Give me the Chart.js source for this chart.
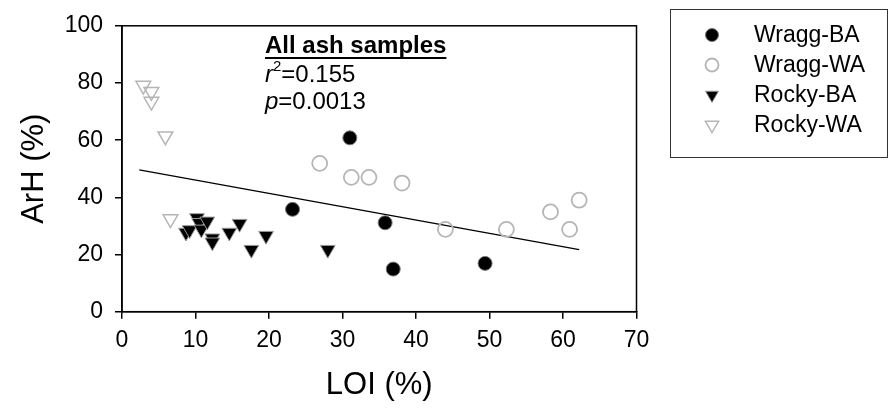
<!DOCTYPE html>
<html>
<head>
<meta charset="utf-8">
<script src="https://cdn.jsdelivr.net/npm/chart.js@4.4.0/dist/chart.umd.min.js"></script>
<style>
  body { margin: 0; background: #fff; }
  #wrap { width: 890px; height: 417px; }
</style>
</head>
<body>
<div id="wrap"><canvas id="myChart" width="890" height="417"></canvas></div>
<script>
// LOI (%) vs ArH (%)
var wraggBA_x = [31.0, 23.2, 35.8, 36.9, 49.4];
var wraggBA_y = [60.8, 35.8, 31.1, 14.9, 16.9];

var wraggWA_x = [26.9, 31.2, 33.6, 38.1, 44.0, 52.3, 58.3, 60.9, 62.2];
var wraggWA_y = [51.9, 47.0, 47.0, 45.0, 28.8, 28.8, 34.9, 28.8, 39.0];

var rockyBA_x = [8.7, 9.2, 10.2, 10.5, 10.8, 11.6, 12.3, 12.3, 14.6, 16.0, 17.6, 19.6, 28.0];
var rockyBA_y = [27.7, 28.6, 32.8, 31.1, 28.8, 31.6, 25.7, 24.3, 27.7, 30.8, 21.7, 26.6, 21.7];

var rockyWA_x = [2.9, 4.0, 4.0, 5.9, 6.6];
var rockyWA_y = [79.1, 76.9, 73.5, 61.4, 32.4];

// regression line end points
var fitX = [2.35, 62.2];
var fitY = [49.6, 21.7];

var xTicks = [0, 10, 20, 30, 40, 50, 60, 70];
var yTicks = [0, 20, 40, 60, 80, 100];

var statLines = ['All ash samples', '=0.155', '=0.0013'];

function pts(xs, ys) {
    return xs.map(function (x, i) { return {x: x, y: ys[i]}; });
}

var FONT = "'Liberation Sans', Arial, sans-serif";
var grey = '#b5b5b5';

var datasets = [
    {label: 'Wragg-BA', data: pts(wraggBA_x, wraggBA_y), pointStyle: 'circle', pointRadius: 7,
     backgroundColor: '#000', borderColor: '#777', borderWidth: 1, showLine: false},
    {label: 'Wragg-WA', data: pts(wraggWA_x, wraggWA_y), pointStyle: 'circle', pointRadius: 7.5,
     backgroundColor: 'rgba(255,255,255,0)', borderColor: grey, borderWidth: 1.8, showLine: false},
    {label: 'Rocky-BA', data: pts(rockyBA_x, rockyBA_y), pointStyle: 'triangle', rotation: 180, pointRadius: 8.5,
     backgroundColor: '#000', borderColor: '#999', borderWidth: 1, showLine: false},
    {label: 'Rocky-WA', data: pts(rockyWA_x, rockyWA_y), pointStyle: 'triangle', rotation: 180, pointRadius: 8.5,
     backgroundColor: 'rgba(255,255,255,0)', borderColor: grey, borderWidth: 1.5, showLine: false},
    {label: 'fit', type: 'line', data: pts(fitX, fitY), showLine: true, pointRadius: 0,
     borderColor: '#000', borderWidth: 1.3, fill: false}
];

function marker(ctx, ds, x, y, r) {
    ctx.save();
    ctx.beginPath();
    if (ds.pointStyle === 'circle') {
        ctx.arc(x, y, r, 0, Math.PI * 2);
    } else {
        var a = Math.PI;
        for (var k = 0; k < 3; k++) {
            var px = x + Math.sin(a) * r, py = y - Math.cos(a) * r;
            if (k === 0) ctx.moveTo(px, py); else ctx.lineTo(px, py);
            a += Math.PI * 2 / 3;
        }
        ctx.closePath();
    }
    ctx.fillStyle = ds.backgroundColor;
    ctx.fill();
    ctx.lineWidth = ds.borderWidth;
    ctx.strokeStyle = ds.borderColor;
    ctx.stroke();
    ctx.restore();
}

var extras = {
    id: 'extras',
    afterDraw: function (chart) {
        var ctx = chart.ctx, a = chart.chartArea;
        ctx.save();
        // frame
        ctx.strokeStyle = '#000';
        ctx.lineWidth = 1.5;
        ctx.strokeRect(a.left, a.top, a.right - a.left, a.bottom - a.top);

        // stats text
        var tx = 265, ty = 46;
        ctx.fillStyle = '#000';
        ctx.textBaseline = 'middle';
        ctx.textAlign = 'left';
        ctx.font = 'bold 24px ' + FONT;
        ctx.fillText(statLines[0], tx, ty);
        var w = ctx.measureText(statLines[0]).width;
        ctx.fillRect(tx, ty + 11, w, 2);
        ctx.font = 'italic 24px ' + FONT;
        ctx.fillText('r', tx, ty + 29);
        var rw = ctx.measureText('r').width;
        ctx.font = '15px ' + FONT;
        ctx.fillText('2', tx + rw, ty + 21);
        var sw = ctx.measureText('2').width;
        ctx.font = '24px ' + FONT;
        ctx.fillText(statLines[1], tx + rw + sw, ty + 29);
        ctx.font = 'italic 24px ' + FONT;
        ctx.fillText('p', tx, ty + 56);
        var pw = ctx.measureText('p').width;
        ctx.font = '24px ' + FONT;
        ctx.fillText(statLines[2], tx + pw, ty + 56);

        // legend
        ctx.lineWidth = 1;
        ctx.strokeStyle = '#333';
        ctx.strokeRect(670.5, 9.5, 217, 148);
        ctx.font = '23px ' + FONT;
        for (var i = 0; i < 4; i++) {
            var ly = 35 + i * 30;
            marker(ctx, datasets[i], 712, ly, i < 2 ? 6.5 : 7.5);
            ctx.fillStyle = '#000';
            ctx.fillText(datasets[i].label, 754, ly + 1);
        }
        ctx.restore();
    }
};

var ctx = document.getElementById('myChart');
var graphData = {
    type: 'scatter',
    data: {datasets: datasets},
    options: {
        responsive: false,
        animation: false,
        layout: {padding: {top: 16.7, right: 253.5, left: 0, bottom: 0}},
        plugins: {legend: {display: false}, tooltip: {enabled: false}},
        scales: {
            x: {
                type: 'linear', min: 0, max: 70,
                afterBuildTicks: function (s) { s.ticks = xTicks.map(function (v) { return {value: v}; }); },
                afterFit: function (s) { s.height = 105.3; },
                ticks: {color: '#000', font: {family: FONT, size: 23}, padding: 8, maxRotation: 0},
                grid: {drawOnChartArea: false, tickLength: 7, color: '#000', lineWidth: 1.5},
                border: {color: '#000', width: 1.5},
                title: {display: true, text: 'LOI (%)', color: '#000', font: {family: FONT, size: 31}, padding: {bottom: 13}}
            },
            y: {
                type: 'linear', min: 0, max: 100,
                afterBuildTicks: function (s) { s.ticks = yTicks.map(function (v) { return {value: v}; }); },
                afterFit: function (s) { s.width = 122; },
                ticks: {color: '#000', font: {family: FONT, size: 23}, padding: 12},
                grid: {drawOnChartArea: false, tickLength: 7, color: '#000', lineWidth: 1.5},
                border: {color: '#000', width: 1.5},
                title: {display: true, text: 'ArH (%)', color: '#000', font: {family: FONT, size: 31}, padding: {top: 16}}
            }
        }
    },
    plugins: [extras]
};
var myChart = new Chart(ctx, graphData);
</script>
</body>
</html>
